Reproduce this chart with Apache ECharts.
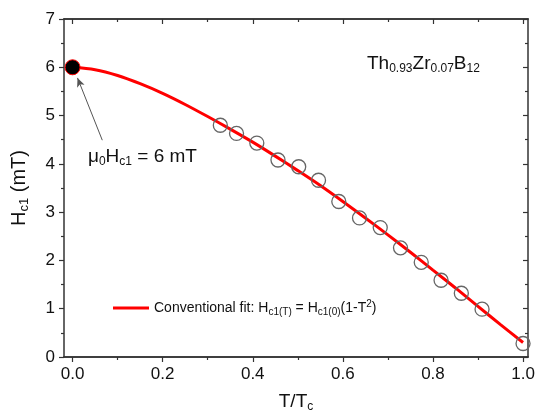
<!DOCTYPE html>
<html>
<head>
<meta charset="utf-8">
<script src="https://cdn.jsdelivr.net/npm/echarts@6/dist/echarts.min.js"></script>
<style>html,body{margin:0;padding:0;background:#fff;}#c{width:538px;height:412px;}</style>
</head>
<body>
<div id="c"></div>
<script>
// Measured data (T/Tc, Hc1 in mT)
var measT = [0.328, 0.364, 0.409, 0.456, 0.502, 0.546, 0.591, 0.637, 0.683, 0.728, 0.774, 0.818, 0.863, 0.909, 1.000];
var measH = [4.80, 4.63, 4.43, 4.08, 3.94, 3.66, 3.22, 2.88, 2.68, 2.26, 1.96, 1.59, 1.32, 0.99, 0.28];
// Fit curve
var fitT = [0, 0.05, 0.1, 0.15, 0.2, 0.25, 0.3, 0.35, 0.4, 0.45, 0.5, 0.55, 0.6, 0.65, 0.7, 0.75, 0.8, 0.85, 0.9, 0.95, 1.0];
var fitH = [6.0, 5.95, 5.83, 5.66, 5.46, 5.23, 4.98, 4.72, 4.45, 4.16, 3.86, 3.55, 3.22, 2.88, 2.53, 2.17, 1.80, 1.43, 1.05, 0.67, 0.30];
// Zero-temperature point
var zeroT = [0];
var zeroH = [6.0];
// Ticks
var xMajor = [0, 0.2, 0.4, 0.6, 0.8, 1.0];
var xMinor = [0.1, 0.3, 0.5, 0.7, 0.9];

function pairs(a, b) { return a.map(function (v, i) { return [v, b[i]]; }); }

var FONT = '"Liberation Sans", Arial, sans-serif';
var AX = '#333';
var XMIN = -0.019, XMAX = 1.011;

function xAxisDef(pos, values, len, inside, labels, name) {
  return {
    type: 'value', position: pos, min: XMIN, max: XMAX,
    axisLine: { show: true, onZero: false, lineStyle: { color: AX, width: 1.5 } },
    axisTick: { show: true, inside: inside, length: len, customValues: values, lineStyle: { color: AX, width: 1.2 } },
    axisLabel: labels ? { show: true, customValues: values, fontSize: 17, color: '#111', fontFamily: FONT, margin: 9,
      formatter: function (v) { return v.toFixed(1); } } : { show: false },
    splitLine: { show: false },
    name: name || '',
    nameLocation: 'middle', nameGap: 34,
    nameTextStyle: { fontSize: 19, color: '#111', fontFamily: FONT,
      rich: { a: { fontSize: 19, fontFamily: FONT, color: '#111' }, s: { fontSize: 12, fontFamily: FONT, color: '#111', padding: [10, 0, 0, 0] } } }
  };
}

var option = {
  animation: false,
  backgroundColor: '#fff',
  grid: { left: 64, right: 10, top: 19, bottom: 55, containLabel: false, outerBoundsMode: 'none' },
  xAxis: [
    xAxisDef('bottom', xMajor, 5, false, true, '{a|T/T}{s|c}'),
    xAxisDef('bottom', xMinor, 3, false, false),
    xAxisDef('top', xMajor, 5, true, false),
    xAxisDef('top', xMinor, 3, true, false)
  ],
  yAxis: [
    {
      type: 'value', position: 'left', min: 0, max: 7, interval: 1,
      axisLine: { show: true, onZero: false, lineStyle: { color: AX, width: 1.5 } },
      axisTick: { show: true, inside: false, length: 5, lineStyle: { color: AX, width: 1.2 } },
      minorTick: { show: true, splitNumber: 2, length: 3, lineStyle: { color: AX, width: 1.2 } },
      axisLabel: { fontSize: 17, color: '#111', fontFamily: FONT, margin: 9 },
      splitLine: { show: false },
      name: '{a|H}{s|c1}{a| (mT)}', nameLocation: 'middle', nameGap: 33, nameRotate: 90,
      nameTextStyle: { fontSize: 20, color: '#111', fontFamily: FONT,
        rich: { a: { fontSize: 20, fontFamily: FONT, color: '#111' }, s: { fontSize: 13, fontFamily: FONT, color: '#111', padding: [10, 0, 0, 0] } } }
    },
    {
      type: 'value', position: 'right', min: 0, max: 7, interval: 1,
      axisLine: { show: true, onZero: false, lineStyle: { color: AX, width: 1.5 } },
      axisTick: { show: true, inside: true, length: 5, lineStyle: { color: AX, width: 1.2 } },
      minorTick: { show: true, splitNumber: 2, length: 3, lineStyle: { color: AX, width: 1.2 } },
      axisLabel: { show: false },
      splitLine: { show: false }
    }
  ],
  legend: {
    left: 108, top: 294,
    data: ['fit'],
    icon: 'rect', itemWidth: 36, itemHeight: 3, itemGap: 2,
    formatter: function () {
      return '{a|Conventional fit: H}{s|c1(T)}{a| = H}{s|c1(0)}{a|(1-T}{p|2}{a|)}';
    },
    textStyle: {
      fontFamily: FONT, fontSize: 14, color: '#111',
      rich: {
        a: { fontSize: 14, fontFamily: FONT, color: '#111' },
        s: { fontSize: 10, fontFamily: FONT, color: '#111', padding: [8, 0, 0, 0] },
        p: { fontSize: 10, fontFamily: FONT, color: '#111', padding: [0, 0, 8, 0] }
      }
    }
  },
  series: [
    {
      name: 'fit', type: 'line', data: pairs(fitT, fitH), smooth: 0.3, symbol: 'none',
      lineStyle: { color: '#f00', width: 3 }, itemStyle: { color: '#f00' }, z: 2,
      markLine: {
        silent: true, symbol: ['none', 'arrow'], symbolSize: [6, 9],
        label: { show: false },
        lineStyle: { color: '#555', width: 1, type: 'solid' },
        data: [[{ coord: [0.066, 4.49] }, { coord: [0.011, 5.78] }]]
      }
    },
    {
      name: 'meas', type: 'scatter', data: pairs(measT, measH), symbol: 'circle', symbolSize: 14,
      itemStyle: { color: 'rgba(0,0,0,0)', borderColor: '#666', borderWidth: 1.3, opacity: 1 }, z: 3
    },
    {
      name: 'zero', type: 'scatter', data: pairs(zeroT, zeroH), symbol: 'circle', symbolSize: 15,
      itemStyle: { color: '#000', borderColor: '#f00', borderWidth: 1, opacity: 1 }, z: 4
    }
  ],
  graphic: [
    {
      type: 'text', left: 88, top: 147,
      style: {
        text: '{m|μ}{s|0}{a|H}{s|c1}{a| = 6 mT}',
        fontFamily: FONT, fill: '#111',
        rich: {
          a: { fontSize: 19, fontFamily: FONT, fill: '#111' },
          m: { fontSize: 19, fontFamily: FONT, fill: '#111' },
          s: { fontSize: 12, fontFamily: FONT, fill: '#111', padding: [10, 0, 0, 0] }
        }
      }
    },
    {
      type: 'text', left: 367, top: 54,
      style: {
        text: '{a|Th}{s|0.93}{a|Zr}{s|0.07}{a|B}{s|12}',
        fontFamily: FONT, fill: '#111',
        rich: {
          a: { fontSize: 19, fontFamily: FONT, fill: '#111' },
          s: { fontSize: 12, fontFamily: FONT, fill: '#111', padding: [10, 0, 0, 0] }
        }
      }
    }
  ]
};

var chart = echarts.init(document.getElementById('c'), null, { renderer: 'canvas' });
chart.setOption(option);
</script>
</body>
</html>
